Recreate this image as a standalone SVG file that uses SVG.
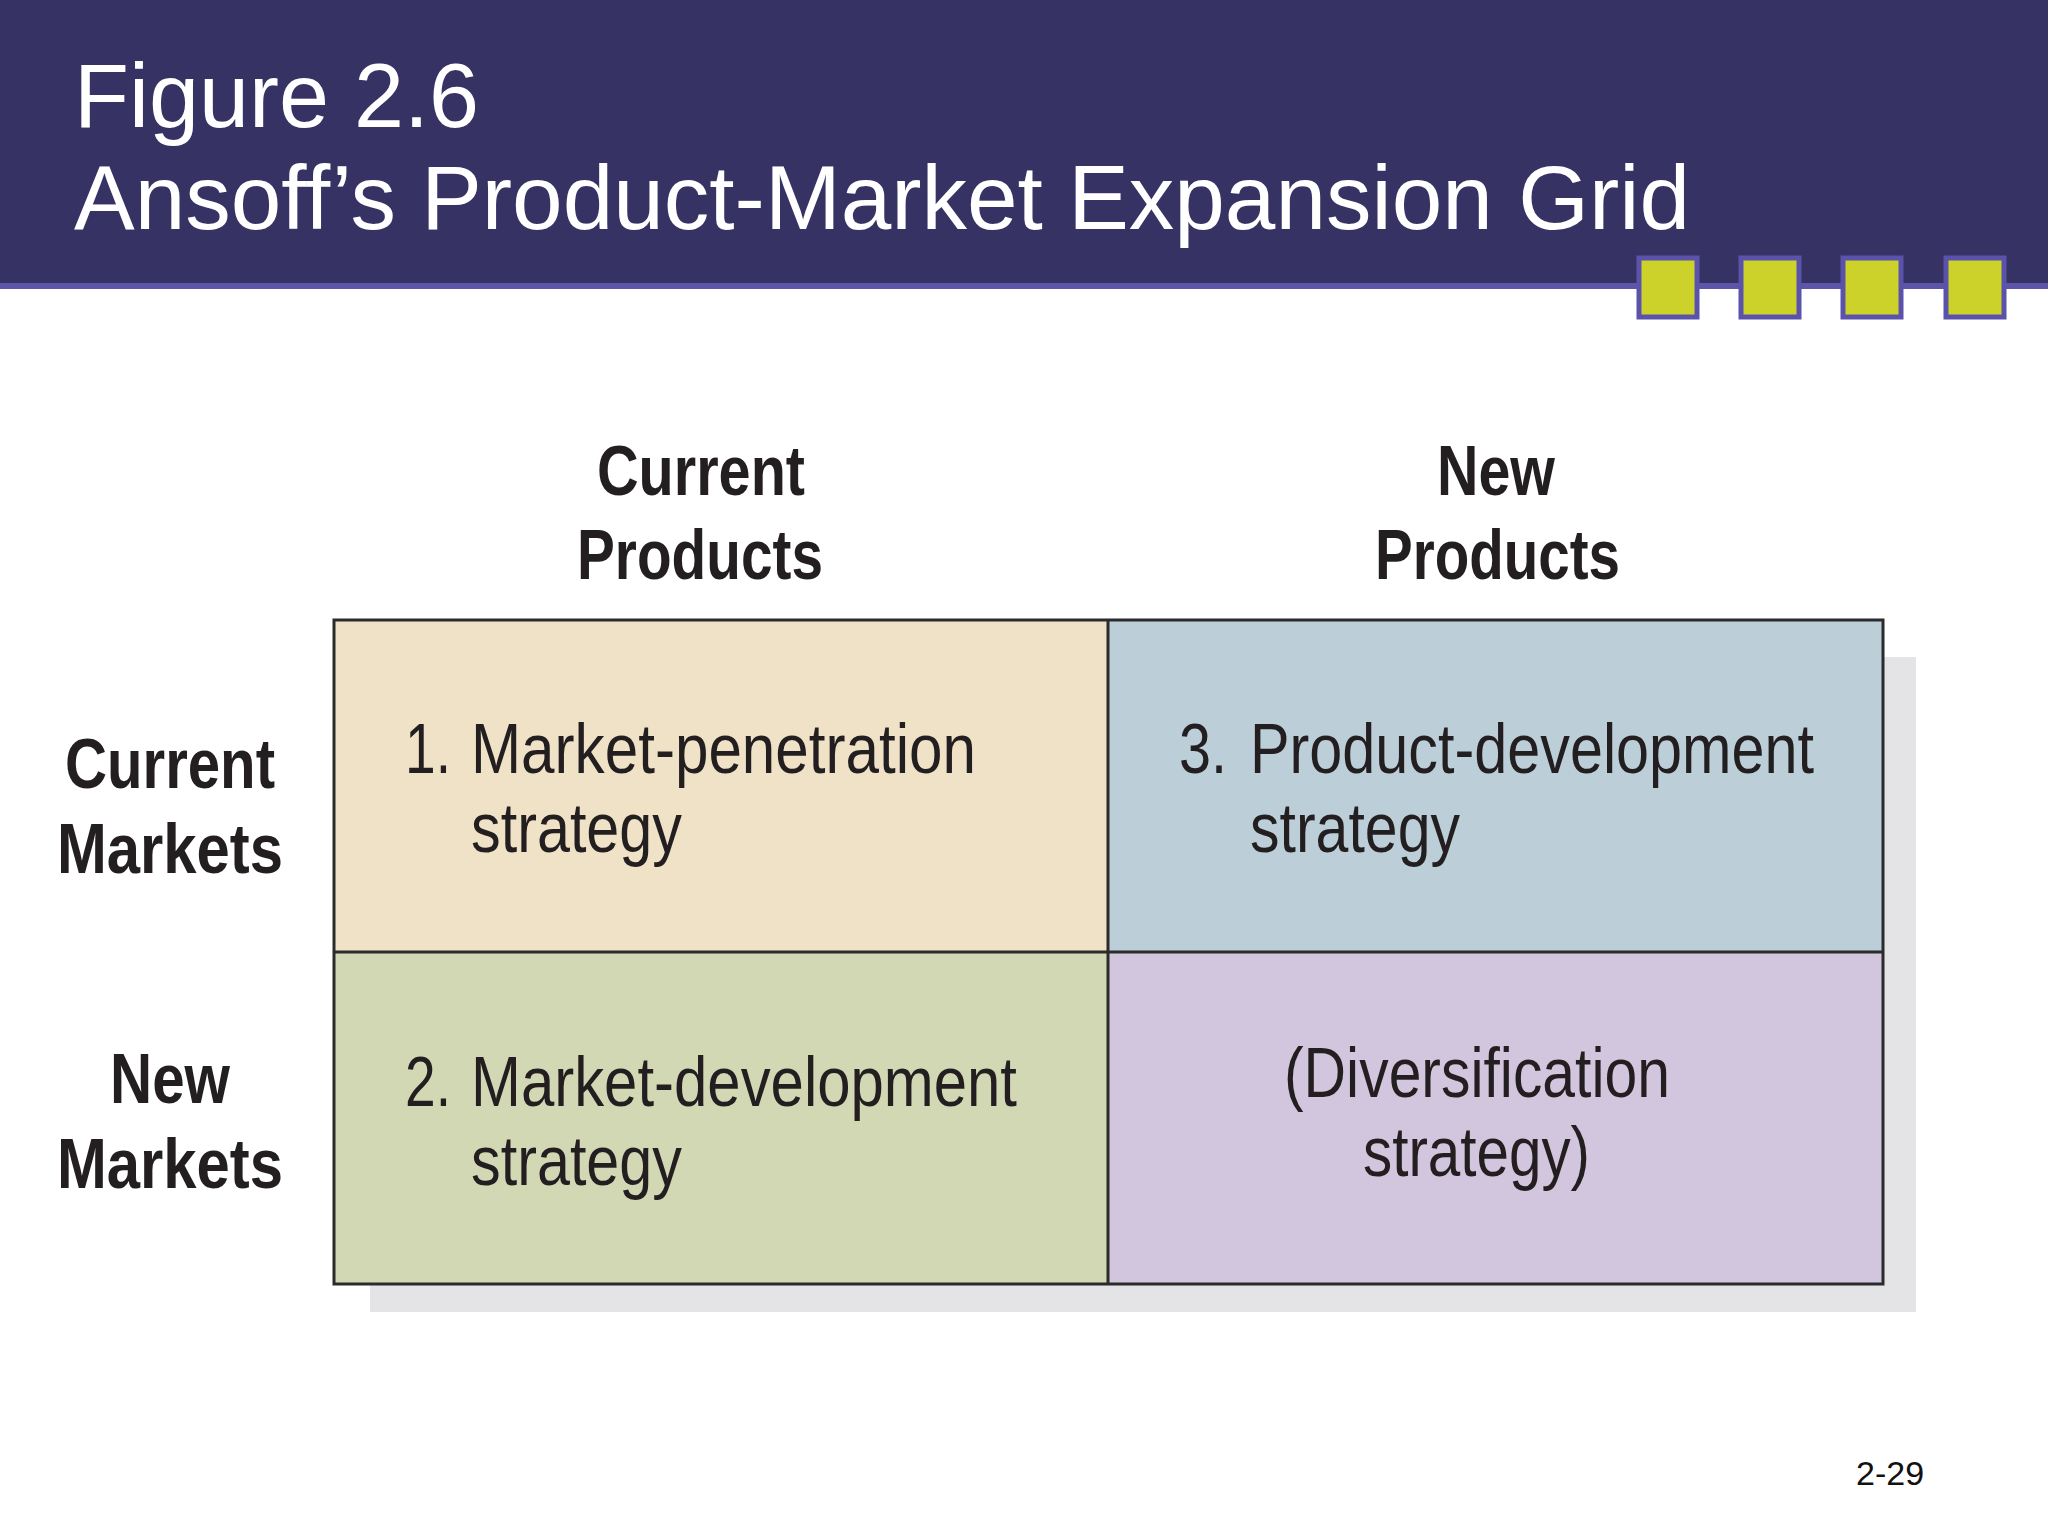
<svg xmlns="http://www.w3.org/2000/svg" width="2048" height="1536" viewBox="0 0 2048 1536">
<style>
.title{font-family:"Liberation Sans",Arial,sans-serif;font-size:91px;fill:#ffffff}
.hdr{font-family:"Liberation Sans Narrow","Liberation Sans",Arial,sans-serif;font-weight:bold;font-size:70px;fill:#231f20}
.cell{font-family:"Liberation Sans Narrow","Liberation Sans",Arial,sans-serif;font-size:71px;fill:#231f20}
.sq{fill:#cdd22b;stroke:#5b53ab;stroke-width:5}
.grid{fill:none;stroke:#2b2b2b;stroke-width:3}
.pg{font-family:"Liberation Sans",Arial,sans-serif;font-size:34px;fill:#111}
</style>
<rect x="0" y="0" width="2048" height="1536" fill="#ffffff"/>
<g id="header">
<rect x="0" y="0" width="2048" height="284" fill="#363263"/>
<rect x="0" y="283" width="2048" height="6" fill="#5d55a9"/>
<rect class="sq" x="1639" y="258" width="58" height="59"/>
<rect class="sq" x="1741" y="258" width="58" height="59"/>
<rect class="sq" x="1843" y="258" width="58" height="59"/>
<rect class="sq" x="1946" y="258" width="58" height="59"/>
<text class="title" x="74" y="127" textLength="405" lengthAdjust="spacingAndGlyphs">Figure 2.6</text>
<text class="title" x="74" y="229" textLength="1616" lengthAdjust="spacingAndGlyphs">Ansoff’s Product-Market Expansion Grid</text>
</g>
<g id="col-current-products">
<text class="hdr" x="597" y="495" textLength="208" lengthAdjust="spacingAndGlyphs">Current</text>
<text class="hdr" x="577" y="579" textLength="246" lengthAdjust="spacingAndGlyphs">Products</text>
</g>
<g id="col-new-products">
<text class="hdr" x="1437" y="495" textLength="118" lengthAdjust="spacingAndGlyphs">New</text>
<text class="hdr" x="1375" y="579" textLength="245" lengthAdjust="spacingAndGlyphs">Products</text>
</g>
<g id="row-current-markets">
<text class="hdr" x="65" y="788" textLength="210" lengthAdjust="spacingAndGlyphs">Current</text>
<text class="hdr" x="57" y="873" textLength="226" lengthAdjust="spacingAndGlyphs">Markets</text>
</g>
<g id="row-new-markets">
<text class="hdr" x="110" y="1103" textLength="120" lengthAdjust="spacingAndGlyphs">New</text>
<text class="hdr" x="57" y="1188" textLength="226" lengthAdjust="spacingAndGlyphs">Markets</text>
</g>
<rect id="shadow" x="370" y="657" width="1546" height="655" fill="#e4e4e7"/>
<g id="cell-1">
<rect x="334" y="620" width="774" height="332" fill="#efe2c6"/>
<text class="cell" x="405" y="773" textLength="46" lengthAdjust="spacingAndGlyphs">1.</text>
<text class="cell" x="471" y="773" textLength="505" lengthAdjust="spacingAndGlyphs">Market-penetration</text>
<text class="cell" x="471" y="852" textLength="211" lengthAdjust="spacingAndGlyphs">strategy</text>
</g>
<g id="cell-3">
<rect x="1108" y="620" width="775" height="332" fill="#bccfd9"/>
<text class="cell" x="1179" y="773" textLength="48" lengthAdjust="spacingAndGlyphs">3.</text>
<text class="cell" x="1250" y="773" textLength="564" lengthAdjust="spacingAndGlyphs">Product-development</text>
<text class="cell" x="1250" y="852" textLength="210" lengthAdjust="spacingAndGlyphs">strategy</text>
</g>
<g id="cell-2">
<rect x="334" y="952" width="774" height="332" fill="#d3d8b4"/>
<text class="cell" x="405" y="1106" textLength="46" lengthAdjust="spacingAndGlyphs">2.</text>
<text class="cell" x="471" y="1106" textLength="546" lengthAdjust="spacingAndGlyphs">Market-development</text>
<text class="cell" x="471" y="1185" textLength="211" lengthAdjust="spacingAndGlyphs">strategy</text>
</g>
<g id="cell-4">
<rect x="1108" y="952" width="775" height="332" fill="#d2c6df"/>
<text class="cell" x="1284" y="1097" textLength="386" lengthAdjust="spacingAndGlyphs">(Diversification</text>
<text class="cell" x="1363" y="1176" textLength="227" lengthAdjust="spacingAndGlyphs">strategy)</text>
</g>
<g id="connectors">
<rect class="grid" x="334" y="620" width="1549" height="664"/>
<line class="grid" x1="1108" y1="620" x2="1108" y2="1284"/>
<line class="grid" x1="334" y1="952" x2="1883" y2="952"/>
</g>
<text class="pg" x="1856" y="1485">2-29</text>
</svg>
